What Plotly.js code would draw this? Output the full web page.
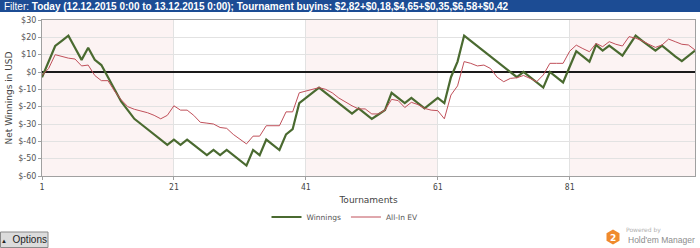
<!DOCTYPE html>
<html>
<head>
<meta charset="utf-8">
<script src="https://cdn.plot.ly/plotly-3.0.1.min.js"></script>
<style>
html,body{margin:0;padding:0;background:#fff;}
#chart{width:700px;height:248px;}
</style>
</head>
<body>
<div id="chart"></div>
<script>
// ---- data ----
var tournaments = [];
for (var i = 1; i <= 100; i++) tournaments.push(i);

var winnings = [
  -3, 6, 15, 18, 21, 14, 7, 14, 7, 4,
  -3, -10, -17, -22, -27, -30, -33, -36, -39, -42,
  -39, -42, -39, -42, -45, -48, -45, -48, -45, -48,
  -51, -54, -45, -48, -39, -42, -45, -36, -33, -18,
  -15, -12, -9, -12, -15, -18, -21, -24, -21, -24,
  -27, -24.5, -22, -12, -15, -18, -15, -18, -21, -18,
  -15, -18, -3, 6, 21, 18, 15, 12, 9, 6,
  3, 0, -3, 0, -3, -6, -9, 0, -3, -6,
  3, 12, 9, 6, 15.6, 12.3, 15.2, 12.3, 9.4, 15.2,
  21, 18, 15, 12.3, 15.2, 12, 9, 6.3, 9.3, 12.3
];

var allInEV = [
  -2, 2, 10, 9, 8, 7.5, 3.5, 4, -2, -5,
  -5, -11, -16, -20, -21.5, -22.5, -23.5, -25, -27, -25,
  -19.5, -22, -22, -25, -29, -29.5, -30, -32, -32.5, -36,
  -39, -41.5, -37, -37, -31, -31, -31, -23, -23, -12,
  -11, -10, -9, -10, -12, -15, -17.5, -19.5, -21.3, -21.3,
  -24.2, -24.2, -22, -15.8, -16.5, -20.5, -17.5, -18.8, -21, -22,
  -22.3, -27, -13.3, -8, 6, 5, 3.5, 4, 2, -3,
  -5.6, -3.7, -3.3, -2, -3.7, -5.6, -1.7, 5, 5, 5,
  12, 15.5, 13.5, 11.7, 16.5, 14.6, 17.5, 16, 15, 20.4,
  19.5, 18, 16, 14.2, 15.6, 19, 17.5, 16, 15.6, 12.7
];

var xTickVals = [1, 21, 41, 61, 81];
var yTickVals = [30, 20, 10, 0, -10, -20, -30, -40, -50, -60];
var yTickText = ['$30', '$20', '$10', '$0', '$-10', '$-20', '$-30', '$-40', '$-50', '$-60'];
var bandStarts = [1, 41, 81];
var bandEnds = [21, 61, 100];
var seriesNames = ['Winnings', 'All-In EV'];
var filterText = 'Filter: <b>Today (12.12.2015 0:00 to 13.12.2015 0:00); Tournament buyins: $2,82+$0,18,$4,65+$0,35,$6,58+$0,42</b>';

// ---- pixel helpers for decorations (paper coords) ----
var M = {l: 42, r: 5, t: 20, b: 72};
var W = 700, H = 248;
var pw = W - M.l - M.r, ph = H - M.t - M.b;
function px(X) { return (X - M.l) / pw; }
function py(Y) { return (H - M.b - Y) / ph; }

var shapes = [];
for (var k = 0; k < bandStarts.length; k++) {
  shapes.push({type: 'rect', xref: 'x', yref: 'paper', x0: bandStarts[k], x1: bandEnds[k], y0: 0, y1: 1,
    fillcolor: '#fcf3f3', line: {width: 0}, layer: 'below'});
}
// banner
shapes.push({type: 'rect', xref: 'paper', yref: 'paper', x0: px(0), x1: px(700), y0: py(12), y1: py(0),
  fillcolor: '#1c4c94', line: {width: 0}});
// options button
shapes.push({type: 'rect', xref: 'paper', yref: 'paper', x0: px(0.5), x1: px(48), y0: py(247.5), y1: py(232),
  fillcolor: '#dcdcdc', line: {width: 1, color: '#8a8a8a'}});
// logo hexagon
var hx = 613, hy = 237, hr = 7.5;
var hp = '';
for (var j = 0; j < 6; j++) {
  var a = Math.PI / 6 + j * Math.PI / 3;
  var X = hx + hr * Math.cos(a), Y = hy + hr * Math.sin(a);
  hp += (j === 0 ? 'M' : 'L') + px(X) + ',' + py(Y);
}
hp += 'Z';
shapes.push({type: 'path', xref: 'paper', yref: 'paper', path: hp, fillcolor: '#f08a2c', line: {width: 0}});

var annotations = [
  {xref: 'paper', yref: 'paper', x: px(2), y: py(6.5), xanchor: 'left', yanchor: 'middle', showarrow: false,
    text: filterText, font: {family: 'Liberation Sans, Arial, sans-serif', size: 10, color: '#ffffff'}},
  {xref: 'paper', yref: 'paper', x: px(24), y: py(240), xanchor: 'center', yanchor: 'middle', showarrow: false,
    text: '<span style="font-size:6px">▲</span>  Options', font: {family: 'Liberation Sans, Arial, sans-serif', size: 10, color: '#222'}},
  {xref: 'paper', yref: 'paper', x: px(613), y: py(237.5), xanchor: 'center', yanchor: 'middle', showarrow: false,
    text: '<b>2</b>', font: {family: 'DejaVu Sans, sans-serif', size: 9, color: '#ffffff'}},
  {xref: 'paper', yref: 'paper', x: px(624), y: py(230), xanchor: 'left', yanchor: 'middle', showarrow: false,
    text: 'Powered by', font: {family: 'DejaVu Sans, sans-serif', size: 6, color: '#b0b0b0'}},
  {xref: 'paper', yref: 'paper', x: px(697), y: py(240.5), xanchor: 'right', yanchor: 'middle', showarrow: false,
    text: "Hold'em Manager", font: {family: 'Liberation Sans, Arial, sans-serif', size: 8.5, color: '#8c8c8c'}}
];

var traces = [
  {x: tournaments, y: winnings, type: 'scatter', mode: 'lines', name: seriesNames[0],
    line: {color: '#4a6a30', width: 2.2}},
  {x: tournaments, y: allInEV, type: 'scatter', mode: 'lines', name: seriesNames[1],
    line: {color: '#c0505a', width: 1}}
];

var layout = {
  width: W, height: H,
  margin: M,
  paper_bgcolor: '#ffffff', plot_bgcolor: '#ffffff',
  showlegend: true,
  legend: {orientation: 'h', x: px(345), xanchor: 'center', y: py(217), yanchor: 'middle',
    font: {family: 'DejaVu Sans, sans-serif', size: 7.5, color: '#555'}, itemwidth: 30, traceorder: 'normal'},
  xaxis: {range: [1, 100], tickvals: xTickVals, ticktext: xTickVals.map(String),
    showgrid: true, gridcolor: '#e2e2e2', zeroline: false,
    showline: true, linecolor: '#a0a0a0', linewidth: 1, mirror: true,
    ticks: 'outside', ticklen: 3, tickcolor: '#a0a0a0',
    tickfont: {family: 'DejaVu Sans Mono, monospace', size: 8, color: '#444'},
    title: {text: 'Tournaments', standoff: 6, font: {family: 'DejaVu Sans, sans-serif', size: 9, color: '#444'}}},
  yaxis: {range: [-60, 30], tickvals: yTickVals, ticktext: yTickText,
    showgrid: true, gridcolor: '#e2e2e2',
    zeroline: true, zerolinecolor: '#1a1a1a', zerolinewidth: 1.5,
    showline: true, linecolor: '#a0a0a0', linewidth: 1, mirror: true,
    ticks: 'outside', ticklen: 3, tickcolor: '#a0a0a0',
    tickfont: {family: 'DejaVu Sans, sans-serif', size: 8, color: '#555'},
    title: {text: 'Net Winnings in USD', standoff: 4, font: {family: 'DejaVu Sans, sans-serif', size: 9, color: '#444'}}},
  shapes: shapes,
  annotations: annotations
};

Plotly.newPlot('chart', traces, layout, {displayModeBar: false, staticPlot: true});
</script>
</body>
</html>
